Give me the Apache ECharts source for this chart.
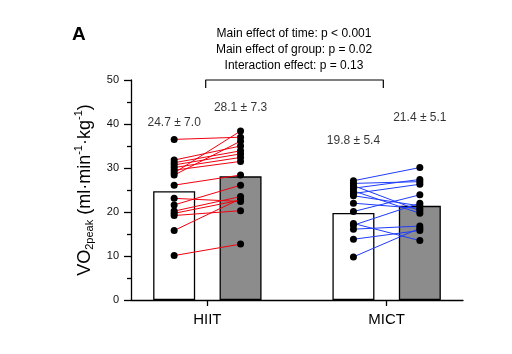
<!DOCTYPE html>
<html>
<head>
<meta charset="utf-8">
<script src="https://cdn.jsdelivr.net/npm/echarts@6/dist/echarts.min.js"></script>
<style>
  html, body { margin: 0; padding: 0; background: #fff; }
  #chart { width: 512px; height: 354px; }
</style>
</head>
<body>
<div id="chart"></div>
<script>
var categories = ['HIIT', 'MICT'];
var groupPos = [23, 77];            // x position of each group centre
var barPos = [13, 33, 67, 87];      // pre / post of each group
var meanVals = [24.7, 28.1, 19.8, 21.4];
var sdVals = [7.0, 7.3, 5.4, 5.1];
var sdLabelY = [40.2, 43.6, 36.1, 41.4];

// individual participants, pre -> post
var hiitPre  = [36.5, 31.8, 31.2, 30.7, 30.1, 29.5, 28.9, 28.4, 26.1, 23.1, 21.6, 20.2, 19.7, 19.2, 15.8, 10.1];
var hiitPost = [37.0, 35.0, 33.9, 33.2, 32.4, 31.5, 38.4, 36.1, 28.4, 22.4, 26.1, 23.5, 22.7, 20.3, 23.0, 12.7];
var mictPre  = [27.1, 26.5, 26.0, 25.4, 24.8, 24.2, 23.7, 22.0, 20.1, 17.4, 17.0, 16.1, 13.8, 9.8];
var mictPost = [30.1, 26.9, 20.3, 27.4, 19.7, 26.3, 21.4, 20.8, 23.9, 13.5, 22.0, 16.8, 15.8, 16.3];

var bracketX = [22.5, 76];
var bracketY = [48.2, 50];

var stats = [
    'Main effect of time: p < 0.001',
    'Main effect of group: p = 0.02',
    'Interaction effect: p = 0.13'
];

var font = 'Liberation Sans, Arial, sans-serif';
var red = '#f2000f', blue = '#1f3cff';

var series = [];

// bars (means)
series.push({
    type: 'bar',
    barWidth: 42,
    z: 1,
    silent: true,
    data: barPos.map(function (x, i) {
        return {
            value: [x, meanVals[i]],
            itemStyle: {
                color: i % 2 === 0 ? '#ffffff' : '#8c8c8c',
                borderColor: '#000',
                borderWidth: 1.3
            }
        };
    })
});

function addGroup(pre, post, g, color) {
    var xPre = barPos[g * 2], xPost = barPos[g * 2 + 1];
    for (var i = 0; i < pre.length; i++) {
        series.push({
            type: 'line',
            symbol: 'none',
            silent: true,
            z: 2,
            lineStyle: { color: color, width: 1 },
            data: [[xPre, pre[i]], [xPost, post[i]]]
        });
    }
    series.push({
        type: 'scatter',
        symbolSize: 7,
        z: 3,
        silent: true,
        itemStyle: { color: '#000', opacity: 1 },
        data: pre.map(function (v) { return [xPre, v]; })
            .concat(post.map(function (v) { return [xPost, v]; }))
    });
}
addGroup(hiitPre, hiitPost, 0, red);
addGroup(mictPre, mictPost, 1, blue);

// mean ± sd labels
series.push({
    type: 'scatter',
    symbolSize: 0,
    silent: true,
    z: 4,
    label: {
        show: true,
        position: 'inside',
        fontFamily: font,
        fontSize: 12,
        color: '#000',
        formatter: function (p) {
            return meanVals[p.dataIndex].toFixed(1) + ' \u00b1 ' + sdVals[p.dataIndex].toFixed(1);
        }
    },
    data: barPos.map(function (x, i) { return [x, sdLabelY[i]]; })
});

// bracket
series.push({
    type: 'line',
    symbol: 'none',
    silent: true,
    clip: false,
    z: 4,
    lineStyle: { color: '#000', width: 1.2 },
    data: [[bracketX[0], bracketY[0]], [bracketX[0], bracketY[1]],
           [bracketX[1], bracketY[1]], [bracketX[1], bracketY[0]]]
});

var chart = echarts.init(document.getElementById('chart'));
chart.setOption({
    animation: false,
    backgroundColor: '#fff',
    grid: { left: 131, right: 49, top: 80, bottom: 54 },
    xAxis: {
        type: 'value',
        min: 0,
        max: 100,
        splitLine: { show: false },
        axisLine: { show: true, lineStyle: { color: '#000', width: 1.3 } },
        axisTick: { show: true, length: 6, customValues: groupPos, lineStyle: { color: '#000', width: 1.3 } },
        axisLabel: {
            show: true,
            customValues: groupPos,
            margin: 12,
            fontFamily: font,
            fontSize: 15,
            color: '#000',
            formatter: function (v) {
                var i = groupPos.indexOf(v);
                return i >= 0 ? categories[i] : '';
            }
        }
    },
    yAxis: {
        type: 'value',
        min: 0,
        max: 50,
        interval: 10,
        splitLine: { show: false },
        axisLine: { show: true, lineStyle: { color: '#000', width: 1.3 } },
        axisTick: { show: true, length: 7, lineStyle: { color: '#000', width: 1.3 } },
        minorTick: { show: true, splitNumber: 2, length: 4, lineStyle: { color: '#000', width: 1.3 } },
        minorSplitLine: { show: false },
        axisLabel: { fontFamily: font, fontSize: 11, color: '#111', margin: 12 },
        name: '{m|VO}{sub|2peak}{m| (ml\u00b7min}{sup|-1}{m|\u00b7kg}{sup|-1}{m|)}',
        nameLocation: 'middle',
        nameGap: 32,
        nameTextStyle: {
            fontFamily: font,
            rich: {
                m: { fontFamily: font, fontSize: 18, color: '#000', lineHeight: 22, verticalAlign: 'middle' },
                sub: { fontFamily: font, fontSize: 11, color: '#000', lineHeight: 10, verticalAlign: 'bottom' },
                sup: { fontFamily: font, fontSize: 11, color: '#000', lineHeight: 10, verticalAlign: 'top' }
            }
        }
    },
    graphic: [
        {
            type: 'text', x: 72, y: 25,
            style: { text: 'A', font: 'bold 19px ' + font, fill: '#000' }
        },
        {
            type: 'text', x: 294, y: 26,
            style: {
                text: stats.join('\n'),
                font: '12px ' + font,
                fill: '#000',
                textAlign: 'center',
                lineHeight: 16
            }
        }
    ],
    series: series
});
</script>
</body>
</html>
